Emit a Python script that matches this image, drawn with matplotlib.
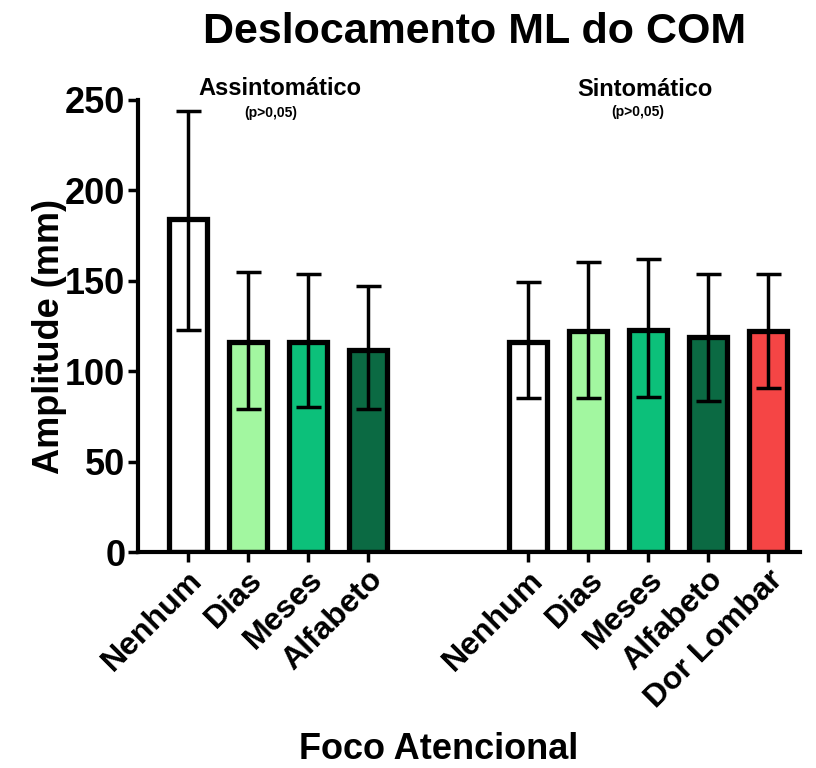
import matplotlib
matplotlib.use("Agg")
from matplotlib import pyplot as plt
import numpy as np

plt.rcParams['font.family'] = ['Liberation Sans', 'DejaVu Sans']
plt.rcParams['font.weight'] = 'bold'

labels = ['Nenhum', 'Dias', 'Meses', 'Alfabeto',
          'Nenhum', 'Dias', 'Meses', 'Alfabeto', 'Dor Lombar']
means = [184, 116, 116, 112, 116, 122, 123, 119, 122]
upper = [244, 155, 154, 147, 149.5, 160.5, 162, 154, 154]
lower = [123, 79, 80, 79, 85, 85, 86, 83.5, 91]
colors = ['#ffffff', '#a2f7a0', '#0cc07a', '#0b6a43',
          '#ffffff', '#a2f7a0', '#0cc07a', '#0b6a43', '#f54545']
positions = [0, 1, 2, 3, 5.67, 6.67, 7.67, 8.67, 9.67]

means = np.array(means)
err = [means - np.array(lower), np.array(upper) - means]

fig = plt.figure(figsize=(8.16, 7.68), dpi=100)
ax = fig.add_axes([0.169, 0.281, 0.811, 0.589])

ax.bar(positions, means, width=0.63, color=colors, edgecolor='black',
       linewidth=3.8, zorder=2)
ax.errorbar(positions, means, yerr=err, fmt='none', ecolor='black',
            elinewidth=2.5, capsize=9, capthick=2.5, zorder=3)

ax.set_ylim(0, 250)
ax.set_xlim(-0.83, 10.2)
ax.set_yticks([0, 50, 100, 150, 200, 250])
ax.set_xticks(positions)
ax.set_xticklabels(labels, rotation=45, ha='right', rotation_mode='anchor',
                   fontsize=23, fontweight='bold')
for t in ax.get_yticklabels():
    t.set_fontsize(26)
    t.set_fontweight('bold')

for s in ['top', 'right']:
    ax.spines[s].set_visible(False)
for s in ['left', 'bottom']:
    ax.spines[s].set_linewidth(3)
ax.tick_params(axis='both', width=2.5, length=7, pad=2)

ax.set_ylabel('Amplitude (mm)', fontsize=26, fontweight='bold')
ax.yaxis.set_label_coords(-0.133, 0.476)
ax.yaxis.label.set_va('center')
ax.set_xlabel('Foco Atencional', fontsize=26, fontweight='bold')
ax.xaxis.set_label_coords(0.455, -0.436)
ax.xaxis.label.set_va('center')

fig.text(0.582, 1 - 32 / 768, 'Deslocamento ML do COM', ha='center',
         va='center', fontsize=31, fontweight='bold')

ax.text(1.53, 256, 'Assintomático', ha='center', va='center',
        fontsize=17, fontweight='bold')
ax.text(1.38, 243, '(p>0,05)', ha='center', va='center', fontsize=10)
ax.text(7.62, 255.5, 'Sintomático', ha='center', va='center',
        fontsize=17, fontweight='bold')
ax.text(7.5, 243.5, '(p>0,05)', ha='center', va='center', fontsize=10)

plt.savefig('out.png', dpi=100)
